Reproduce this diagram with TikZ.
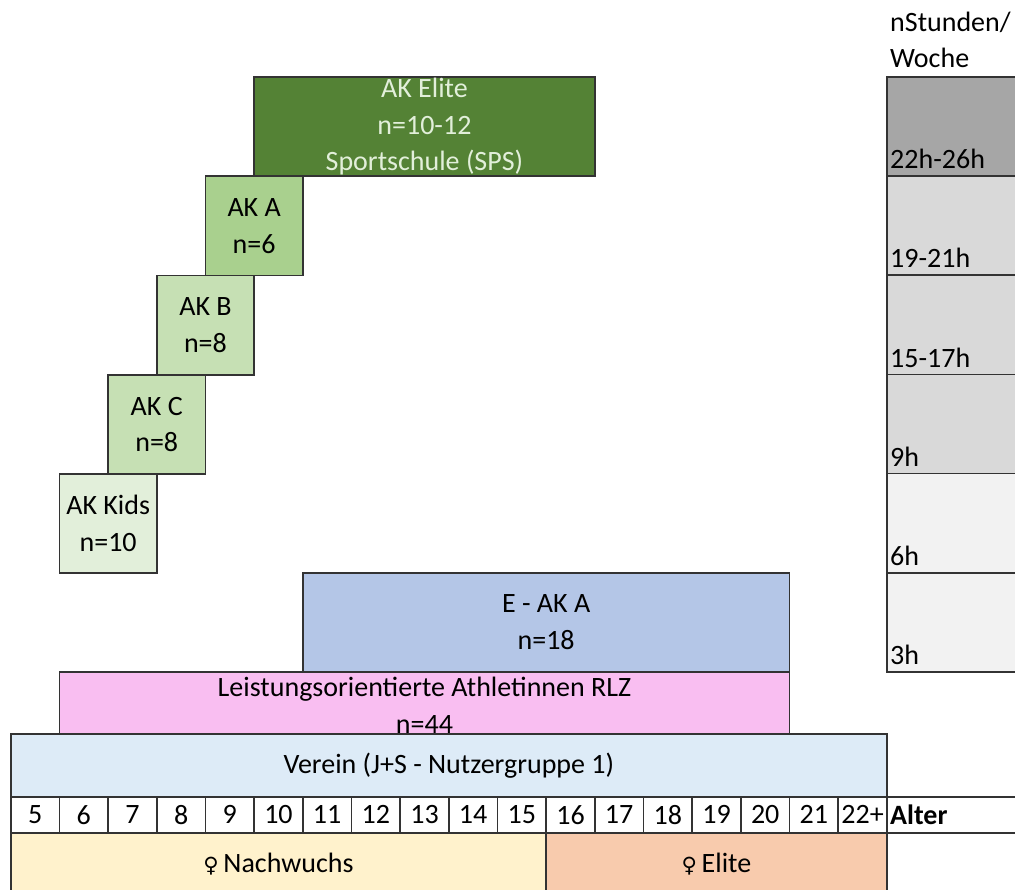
\documentclass[tikz,border=0pt]{standalone}
\usepackage{fontspec}
\setmainfont{Carlito}
\newfontfamily\symbolfont{DejaVu Sans}
\usetikzlibrary{positioning}

\definecolor{akelite}{HTML}{548235}
\definecolor{akelitetext}{HTML}{E2EFDA}
\definecolor{aka}{HTML}{A9D08E}
\definecolor{akbc}{HTML}{C6E0B4}
\definecolor{akkids}{HTML}{E2EFDA}
\definecolor{eaka}{HTML}{B4C6E7}
\definecolor{leist}{HTML}{F9BEF1}
\definecolor{verein}{HTML}{DDEBF7}
\definecolor{nachwuchs}{HTML}{FFF2CC}
\definecolor{elitefarbe}{HTML}{F8CBAD}
\definecolor{grauA}{HTML}{A6A6A6}
\definecolor{grauB}{HTML}{D9D9D9}
\definecolor{grauC}{HTML}{F2F2F2}

\newcommand{\weib}{{\symbolfont\fontsize{21}{22}\selectfont\char"2640}}

\begin{document}
\begin{tikzpicture}[x=1pt,y=-1pt,
        feld/.style={draw=black!80, line width=1.6pt, anchor=north west, inner sep=0pt,
            align=center, text=black, font=\fontsize{28}{36.5}\selectfont},
        zelle/.style={feld, minimum width=48.67pt, minimum height=36pt},
        stufe/.style={feld, minimum width=140pt, minimum height=99.2pt},
        schrift/.style={inner sep=0pt, text=black, font=\fontsize{28}{36.5}\selectfont}]
    \useasboundingbox (0,0) rectangle (1015,890);

    % Treppe der Ausbildungskader
    \node [feld, fill=akelite, text=akelitetext, minimum width=340.7pt, minimum height=99.5pt]
        (akelite) at (253.3,76) {AK Elite\\n=10-12\\Sportschule (SPS)};
    \node [feld, fill=aka, minimum width=97.3pt, minimum height=99.3pt]
        (aka) at (204.7,175.5) {AK A\\n=6};
    \node [feld, fill=akbc, minimum width=97.3pt, minimum height=99.2pt]
        (akb) at (156,274.8) {AK B\\n=8};
    \node [feld, fill=akbc, minimum width=97.3pt, minimum height=99pt]
        (akc) at (107.3,374) {AK C\\n=8};
    \node [feld, fill=akkids, minimum width=97.3pt, minimum height=99pt]
        (akkids) at (58.7,473) {AK Kids\\n=10};

    % breite Gruppen
    \node [feld, fill=eaka, minimum width=486.7pt, minimum height=99pt]
        (eaka) at (302,572) {E - AK A\\n=18};
    \node [feld, fill=leist, minimum width=730pt, minimum height=62pt]
        (leist) at (58.7,671) {};
    \node [schrift, align=center, below=6pt of leist.north] (leisttext)
        {Leistungsorientierte Athletinnen RLZ\\n=44};
    \node [feld, fill=verein, minimum width=876pt, minimum height=63pt]
        (verein) at (10,733) {Verein (J+S - Nutzergruppe 1)};

    % Altersleiste
    \foreach \a [count=\i from 0] in {5,6,7,8,9,10,11,12,13,14,15,16,17,18,19,20,21,22+}
        \node [zelle] (alter\i) at (10+48.67*\i,796) {\a};
    \node [zelle, minimum width=140pt] (alter) at (886,796) {};
    \node [schrift, anchor=west, right=4pt of alter.west, font=\fontsize{28}{36.5}\selectfont\bfseries]
        (altertext) {Alter};

    \node [feld, fill=nachwuchs, minimum width=535.3pt, minimum height=62pt]
        (nachwuchs) at (10,832) {\weib\,Nachwuchs};
    \node [feld, fill=elitefarbe, minimum width=340.7pt, minimum height=62pt]
        (elite) at (545.3,832) {\weib\,Elite};

    % Trainingsumfang
    \node [schrift, anchor=base west] (stunden) at (890,32) {nStunden/};
    \node [schrift, anchor=base west] (woche) at (890,68) {Woche};
    \foreach \f/\t [count=\k from 0] in {grauA/22h-26h,grauB/19-21h,grauB/15-17h,grauB/9h,grauC/6h,grauC/3h}
    {
        \node [stufe, fill=\f] (stufe\k) at (886,76+99.2*\k) {};
        \node [schrift, anchor=base west] (stufentext\k) at ([shift={(4,-8)}]stufe\k.south west) {\t};
    }
\end{tikzpicture}
\end{document}
